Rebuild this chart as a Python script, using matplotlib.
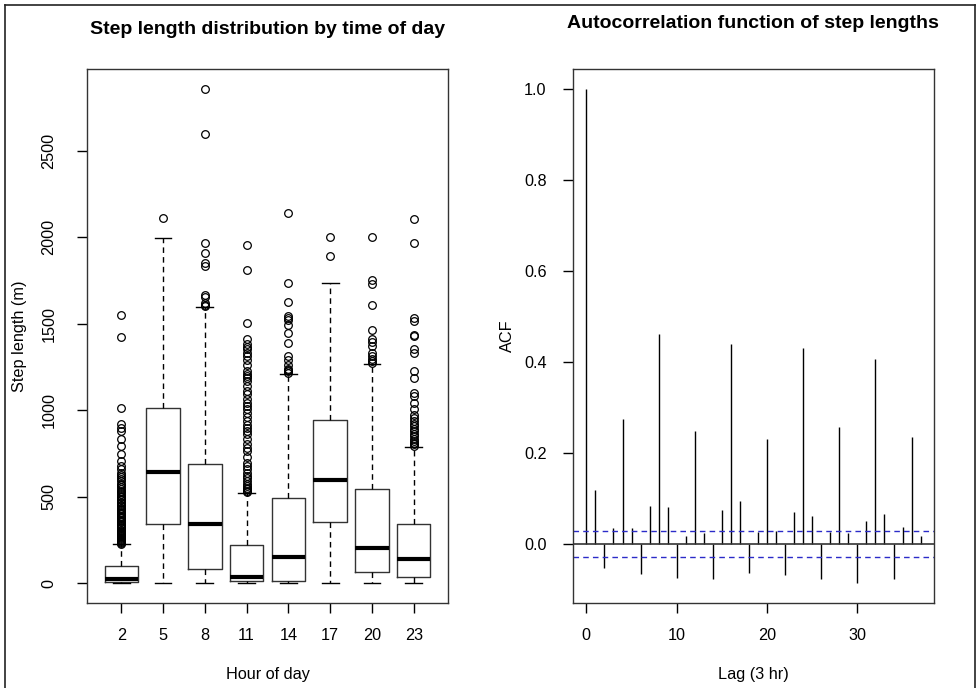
import matplotlib
matplotlib.use("Agg")
import matplotlib.pyplot as plt
from matplotlib.lines import Line2D

plt.rcParams["font.family"] = ["Liberation Sans", "DejaVu Sans"]

# Box plot summary
hours = [2, 5, 8, 11, 14, 17, 20, 23]
q1 = [7, 343, 81, 13, 13, 354, 68, 39]
med = [27, 641, 343, 39, 154, 599, 204, 143]
q3 = [100, 1011, 689, 221, 493, 946, 543, 341]
whis_lo = [0, 0, 0, 0, 0, 0, 0, 0]
whis_hi = [225, 1997, 1596, 520, 1213, 1737, 1269, 787]

out_2 = [228, 233, 238, 244, 249, 255, 261, 266, 272, 279, 285, 291, 298, 304,
         311, 318, 324, 331, 338, 345, 352, 360, 367, 375, 382, 390, 398, 405,
         413, 421, 430, 438, 446, 455, 463, 472, 480, 489, 498, 507, 516, 525,
         535, 545, 556, 566, 577, 590, 601, 612, 624, 640, 659, 678, 707, 745,
         793, 832, 880, 899, 924, 1011, 1425, 1550]
out_5 = [2113]
out_8 = [1605, 1612, 1620, 1656, 1668, 1833, 1853, 1910, 1968, 2600, 2861]
out_11 = [528, 536, 543, 552, 562, 575, 591, 606, 620, 640, 659, 678, 697, 730,
          764, 784, 803, 832, 861, 880, 899, 918, 940, 962, 986, 1005, 1024,
          1044, 1063, 1092, 1110, 1140, 1169, 1185, 1198, 1212, 1226, 1260,
          1294, 1315, 1333, 1352, 1368, 1381, 1410, 1506, 1814, 1954]
out_14 = [1218, 1225, 1232, 1240, 1260, 1294, 1313, 1390, 1448, 1496, 1520,
          1535, 1544, 1627, 1737, 2143]
out_17 = [1893, 2003]
out_20 = [1275, 1284, 1298, 1313, 1333, 1371, 1394, 1413, 1462, 1608, 1733,
          1752, 2003]
out_23 = [795, 803, 812, 822, 836, 851, 866, 880, 895, 909, 924, 938, 957, 976,
          1005, 1044, 1082, 1102, 1188, 1226, 1333, 1352, 1429, 1438, 1515,
          1535, 1966, 2107]
outliers = [out_2, out_5, out_8, out_11, out_14, out_17, out_20, out_23]

# ACF of step lengths, lags 0..37
acf_vals = [1.0, 0.119, -0.053, 0.034, 0.274, 0.034, -0.067, 0.083, 0.461,
            0.080, -0.074, 0.018, 0.248, 0.024, -0.077, 0.075, 0.439, 0.094,
            -0.063, 0.027, 0.230, 0.028, -0.069, 0.071, 0.431, 0.061, -0.077,
            0.027, 0.256, 0.024, -0.086, 0.050, 0.407, 0.066, -0.078, 0.036,
            0.235, 0.018]
ci = 0.028

W, H = 977, 688
fig = plt.figure(figsize=(W / 100, H / 100), dpi=100)
edge = "#333333"


def px_axes(x0, y0, x1, y1):
    return fig.add_axes([x0 / W, 1 - y1 / H, (x1 - x0) / W, (y1 - y0) / H])


def style(ax):
    for s in ax.spines.values():
        s.set_color(edge)
        s.set_linewidth(1)
    ax.tick_params(colors="black", labelsize=11.7, length=7, width=1)
    ax.tick_params(axis="x", pad=11)


# ---- left: boxplot ----
ax1 = px_axes(87, 69, 448, 603)
stats = []
for i in range(len(hours)):
    stats.append(dict(med=med[i], q1=q1[i], q3=q3[i], whislo=whis_lo[i],
                      whishi=whis_hi[i], fliers=outliers[i]))
ax1.bxp(stats, positions=range(1, len(hours) + 1), widths=0.8,
        boxprops=dict(color=edge, lw=1),
        medianprops=dict(color="black", lw=3, solid_capstyle="butt"),
        whiskerprops=dict(color="black", lw=1, ls=(0, (4, 3))),
        capprops=dict(color="black", lw=1), capwidths=0.4,
        flierprops=dict(marker="o", markerfacecolor="none", markeredgecolor="black",
                        markersize=5.5, markeredgewidth=0.9))
ax1.set_xlim(0.18, 8.82)
ax1.set_ylim(-114, 2974)
ax1.set_xticks(range(1, len(hours) + 1))
ax1.set_xticklabels([str(h) for h in hours])
ax1.set_yticks([0, 500, 1000, 1500, 2000, 2500])
ax1.set_yticklabels(["0", "500", "1000", "1500", "2000", "2500"], rotation=90, va="center")
style(ax1)
ax1.tick_params(axis="y", pad=15)

# ---- right: ACF ----
ax2 = px_axes(573, 69, 934, 603)
lags = list(range(len(acf_vals)))
ax2.vlines(lags, 0, acf_vals, color="black", lw=1)
ax2.axhline(0, color="#333333", lw=1.2)
ax2.axhline(ci, color="#2b2bc8", lw=1, ls=(0, (4, 3)))
ax2.axhline(-ci, color="#2b2bc8", lw=1, ls=(0, (4, 3)))
ax2.set_xlim(-1.48, 38.48)
ax2.set_ylim(-0.13, 1.044)
ax2.set_xticks([0, 10, 20, 30])
ax2.set_yticks([0.0, 0.2, 0.4, 0.6, 0.8, 1.0])
ax2.set_yticklabels(["0.0", "0.2", "0.4", "0.6", "0.8", "1.0"])
style(ax2)
ax2.tick_params(axis="y", pad=12)

# titles and axis labels
fig.text(267.5 / W, 1 - 29 / H, "Step length distribution by time of day",
         ha="center", va="center", fontsize=14, fontweight="bold")
fig.text(753 / W, 1 - 23 / H, "Autocorrelation function of step lengths",
         ha="center", va="center", fontsize=14, fontweight="bold")
fig.text(267.5 / W, 1 - 675 / H, "Hour of day", ha="center", va="center", fontsize=11.7)
fig.text(753 / W, 1 - 675 / H, "Lag (3 hr)", ha="center", va="center", fontsize=11.7)
fig.text(20 / W, 1 - 336 / H, "Step length (m)", ha="center", va="center",
         rotation=90, fontsize=11.7)
fig.text(507 / W, 1 - 336 / H, "ACF", ha="center", va="center", rotation=90, fontsize=11.7)

# outer frame (no bottom edge)
for xs, ys in [([4.5, 4.5], [4.5, H]), ([4.5, 975], [4.5, 4.5]), ([975, 975], [4.5, H])]:
    fig.add_artist(Line2D([x / W for x in xs], [1 - y / H for y in ys],
                          color="#222222", lw=1.2))

fig.savefig("out.png", dpi=100)
